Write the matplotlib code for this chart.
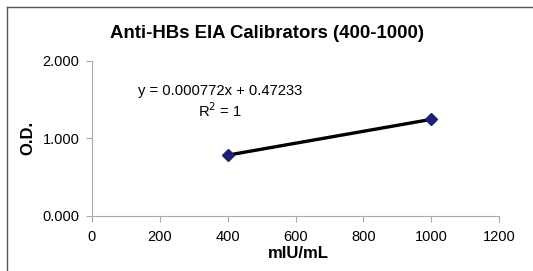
import numpy as np
import matplotlib.pyplot as plt
from matplotlib.lines import Line2D

plt.rcParams['font.family'] = ['Liberation Sans', 'DejaVu Sans']

conc = [400, 1000]
od = [0.78113, 1.24433]
x_ticks = [0, 200, 400, 600, 800, 1000, 1200]
y_ticks = [0.0, 1.0, 2.0]

W, H = 533, 271
fig = plt.figure(figsize=(W / 100, H / 100), dpi=100)
ax = fig.add_axes([92 / W, 1 - 215.5 / H, (499 - 92) / W, (215.5 - 61) / H])

# linear fit for the trendline
slope, icpt = np.polyfit(conc, od, 1)
xs = np.array(conc)
ax.plot(xs, slope * xs + icpt, color='black', lw=2.4, zorder=2)
ax.plot(conc, od, ls='none', marker='D', ms=6, color='#1f1f78', zorder=3)

ax.set_xlim(0, 1200)
ax.set_ylim(0, 2)
ax.set_xticks(x_ticks)
ax.set_yticks(y_ticks)
ax.set_yticklabels(['%.3f' % v for v in y_ticks])
for s in ['top', 'right']:
    ax.spines[s].set_visible(False)
for s in ['left', 'bottom']:
    ax.spines[s].set_color('#aaaaaa')
    ax.spines[s].set_linewidth(0.8)
ax.tick_params(direction='out', length=4, width=0.8, color='#aaaaaa', labelsize=10.5)
ax.tick_params(axis='x', pad=6.5)
ax.tick_params(axis='y', pad=5)

fig.text(267 / W, 1 - 34 / H, 'Anti-HBs EIA Calibrators (400-1000)', fontsize=13.4,
         fontweight='bold', ha='center', va='center')
fig.text(298 / W, 1 - 254 / H, 'mIU/mL', fontsize=12, fontweight='bold', ha='center', va='center')
fig.text(28 / W, 1 - 138 / H, 'O.D.', fontsize=12, fontweight='bold', ha='center', va='center',
         rotation=90)

fig.text(220 / W, 1 - 91 / H, 'y = 0.000772x + 0.47233', ha='center', va='center', fontsize=10.6)
fig.text(220 / W, 1 - 111 / H, 'R$^2$ = 1', ha='center', va='center', fontsize=10.6)

# outer frame lines
fig.add_artist(Line2D([7 / W, 7 / W], [0, 1 - 7 / H], color='#555555', lw=1, transform=fig.transFigure))
fig.add_artist(Line2D([7 / W, 1], [1 - 7 / H, 1 - 7 / H], color='#555555', lw=1, transform=fig.transFigure))

fig.savefig('out.png', dpi=100)
